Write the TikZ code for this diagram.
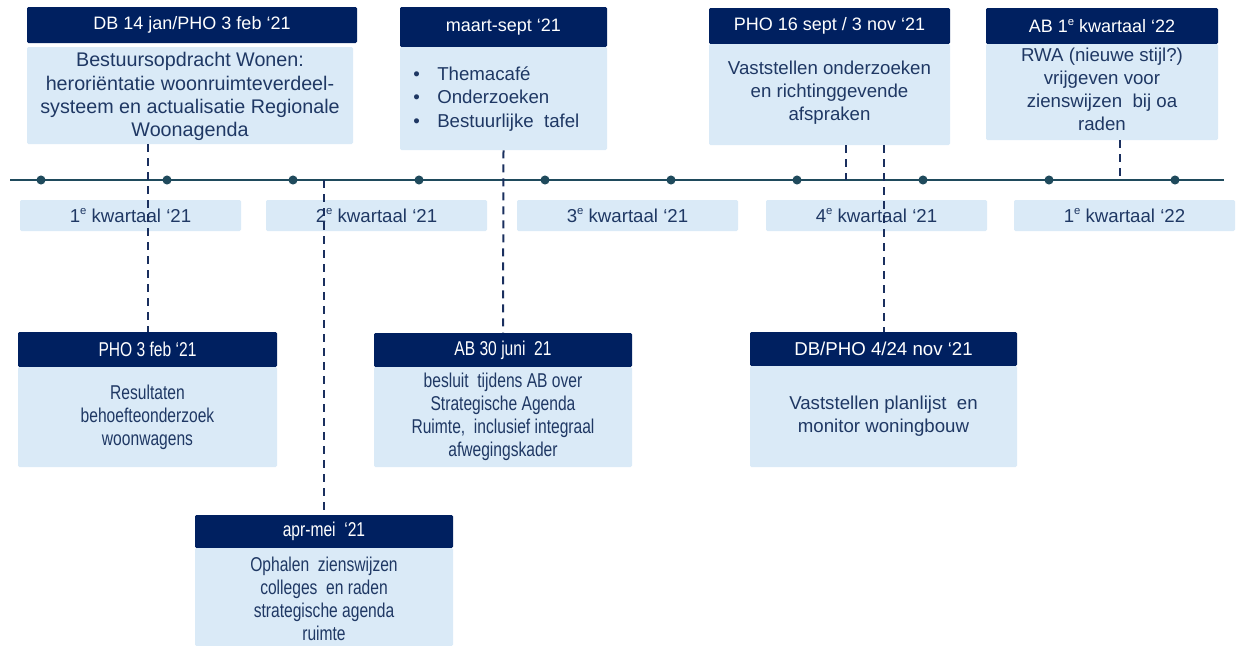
\documentclass[tikz,border=0pt]{standalone}
\usepackage{fontspec}
\setmainfont{Liberation Sans}
\newfontfamily\condfont[FakeStretch=0.78]{Liberation Sans}
\usetikzlibrary{fit}
\definecolor{navy}{HTML}{002060}
\definecolor{pale}{HTML}{DAEAF7}
\definecolor{ink}{HTML}{1F3864}
\definecolor{axiscol}{HTML}{1F4A5C}
\definecolor{dashcol}{HTML}{1A2F5E}
\newcommand{\supe}{\raisebox{0.42em}{\fontsize{8.5}{9}\selectfont e}}
\tikzset{
 hdr/.style={fill=navy, inner sep=0pt, rounded corners=1pt},
 bdy/.style={fill=pale, inner sep=0pt, rounded corners=1pt},
 htxt/.style={text=white, inner sep=0pt, align=center, font=\fontsize{13.5}{16}\selectfont},
 btxt/.style={text=ink, inner sep=0pt, align=center, font=\fontsize{14}{17.3}\selectfont},
 cond/.style={font=\condfont\fontsize{15}{17.3}\selectfont},
 dot/.style={circle, fill=axiscol, inner sep=0pt, minimum size=6.8pt},
 conn/.style={draw=dashcol, line width=1.5pt, dash pattern=on 6pt off 4.5pt},
}
\begin{document}
\begin{tikzpicture}[x=0.75pt,y=-0.75pt]
\useasboundingbox (0,0) rectangle (1239,646);
% timeline
\coordinate (tlL) at (10,180);
\coordinate (tlR) at (1224,180);
\draw[axiscol, line width=1.1pt] (tlL) -- (tlR);
\foreach \i/\x in {1/41,2/167,3/293,4/419,5/545,6/671,7/797,8/923,9/1049,10/1175}
  \node[dot] (d\i) at (\x,180) {};
% quarters
\node[bdy, fit={(20,200)(241,231)}] (q1) {};
\node[bdy, fit={(266,200)(487,231)}] (q2) {};
\node[bdy, fit={(517,200)(738,231)}] (q3) {};
\node[bdy, fit={(766,200)(987,231)}] (q4) {};
\node[bdy, fit={(1014,200)(1235,231)}] (q5) {};
\node[btxt] (q1t) at (q1.center) {1\supe\ kwartaal ‘21};
\node[btxt] (q2t) at (q2.center) {2\supe\ kwartaal ‘21};
\node[btxt] (q3t) at (q3.center) {3\supe\ kwartaal ‘21};
\node[btxt] (q4t) at (q4.center) {4\supe\ kwartaal ‘21};
\node[btxt] (q5t) at (q5.center) {1\supe\ kwartaal ‘22};
% top boxes
\node[hdr, fit={(27,7)(357,43)}] (Ah) {};
\node[bdy, fit={(27,47)(353,144)}] (Ab) {};
\node[htxt] (Aht) at (Ah.center) {DB 14 jan/PHO 3 feb ‘21};
\node[btxt, font=\fontsize{14.8}{17.5}\selectfont] (Abt) at ([yshift=-1pt]Ab.center) {Bestuursopdracht Wonen:\\heroriëntatie woonruimteverdeel-\\systeem en actualisatie Regionale\\Woonagenda};
\node[hdr, fit={(400,7)(607,47)}] (Bh) {};
\node[bdy, fit={(400,47)(607,150)}] (Bb) {};
\node[htxt] (Bht) at (Bh.center) {maart-sept ‘21};
\node[btxt, anchor=west, align=left, font=\fontsize{14}{17.5}\selectfont] (Bt) at (413,99)
  {\makebox[18pt][l]{•}Themacafé\\\makebox[18pt][l]{•}Onderzoeken\\\makebox[18pt][l]{•}Bestuurlijke\ \ tafel};
\node[hdr, fit={(709,8)(950,44)}] (Ch) {};
\node[bdy, fit={(709,44)(950,145)}] (Cb) {};
\node[htxt] (Cht) at (Ch.center) {PHO 16 sept / 3 nov ‘21};
\node[btxt] (Cbt) at ([yshift=1.5pt]Cb.center) {Vaststellen onderzoeken\\en richtinggevende\\afspraken};
\node[hdr, fit={(986,8)(1218,44)}] (Dh) {};
\node[bdy, fit={(986,44)(1218,140)}] (Db) {};
\node[htxt] (Dht) at (Dh.center) {AB 1\supe\ kwartaal ‘22};
\node[btxt] (Dbt) at ([yshift=2pt]Db.center) {RWA (nieuwe stijl?)\\vrijgeven voor\\zienswijzen\ \ bij oa\\raden};
% bottom boxes
\node[hdr, fit={(18,332)(277,367)}] (Eh) {};
\node[bdy, fit={(18,367)(277,467)}] (Eb) {};
\node[htxt, cond] (Eht) at (Eh.center) {PHO 3 feb ‘21};
\node[btxt, cond] (Ebt) at (Eb.center) {Resultaten\\behoefteonderzoek\\woonwagens};
\node[hdr, fit={(374,333)(632,367)}] (Fh) {};
\node[bdy, fit={(374,367)(632,467)}] (Fb) {};
\node[htxt, cond] (Fht) at (Fh.center) {AB 30 juni\ \ 21};
\node[btxt, cond] (Fbt) at (Fb.center) {besluit\ \ tijdens AB over\\Strategische Agenda\\Ruimte,\ \ inclusief integraal\\afwegingskader};
\node[hdr, fit={(750,332)(1017,366)}] (Gh) {};
\node[bdy, fit={(750,366)(1017,467)}] (Gb) {};
\node[htxt, font=\fontsize{14}{16}\selectfont] (Ght) at (Gh.center) {DB/PHO 4/24 nov ‘21};
\node[btxt] (Gbt) at (Gb.center) {Vaststellen planlijst\ \ en\\monitor woningbouw};
\node[hdr, fit={(195,515)(453,548)}] (Hh) {};
\node[bdy, fit={(195,548)(453,646)}] (Hb) {};
\node[htxt, cond] (Hht) at (Hh.center) {apr-mei\ \ ‘21};
\node[btxt, cond] (Hbt) at ([yshift=-1.5pt]Hb.center) {Ophalen\ \ zienswijzen\\colleges\ \ en raden\\strategische agenda\\ruimte};
% connectors
\coordinate (c1) at (846,180);
\coordinate (c2) at (1120,180);
\draw[conn] (Ab.south -| Eh.north) -- (Eh.north);
\draw[conn] (tlL -| Hh.north) -- (Hh.north);
\draw[conn] (Bb.south) -- (Fh.north);
\draw[conn] (Cb.south -| c1) -- (c1);
\draw[conn] (Cb.south -| Gh.north) -- (Gh.north);
\draw[conn] (Db.south -| c2) -- (c2);
\end{tikzpicture}
\end{document}
